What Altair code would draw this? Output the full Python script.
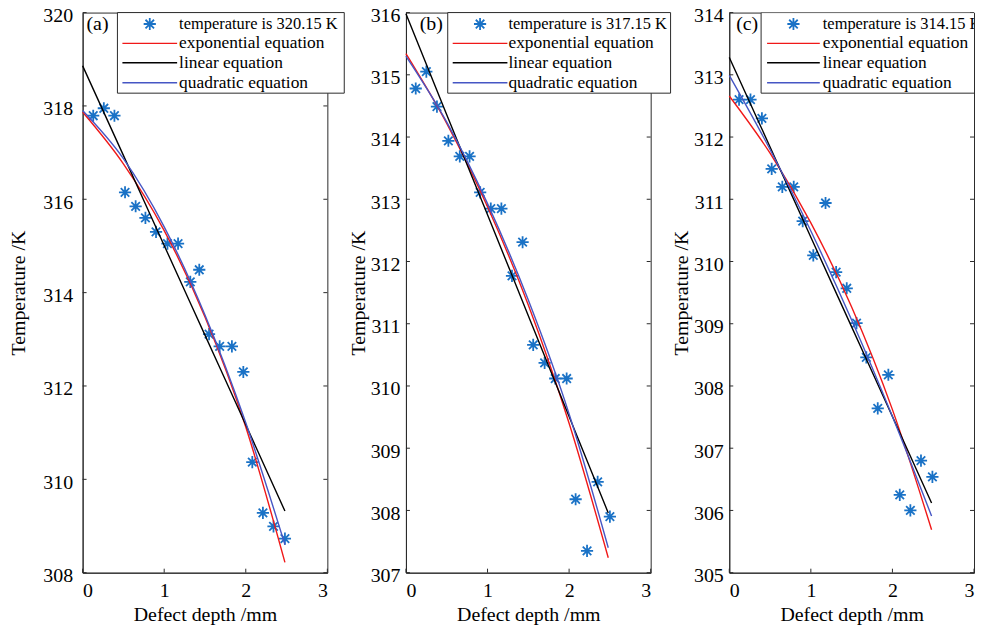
import altair as alt
import pandas as pd

# ---------------- data ----------------
# (a) temperature is 320.15 K
a_depth = [0.13, 0.26, 0.39, 0.52, 0.65, 0.77, 0.90, 1.04, 1.17, 1.32, 1.43,
           1.55, 1.68, 1.83, 1.97, 2.08, 2.21, 2.34, 2.48]
a_temp = [317.79, 317.95, 317.79, 316.15, 315.85, 315.60, 315.30, 315.05, 315.05,
          314.23, 314.49, 313.11, 312.85, 312.85, 312.30, 310.37, 309.28, 308.99, 308.73]
# (b) temperature is 317.15 K
b_depth = [0.12, 0.25, 0.38, 0.52, 0.66, 0.78, 0.91, 1.04, 1.17, 1.30, 1.43,
           1.56, 1.70, 1.83, 1.97, 2.08, 2.22, 2.35, 2.50]
b_temp = [314.78, 315.05, 314.49, 313.94, 313.69, 313.69, 313.11, 312.85, 312.85,
          311.77, 312.31, 310.66, 310.37, 310.12, 310.12, 308.18, 307.35, 308.46, 307.90]
# (c) temperature is 314.15 K
c_depth = [0.12, 0.26, 0.40, 0.52, 0.65, 0.79, 0.90, 1.03, 1.18, 1.31, 1.44,
           1.56, 1.68, 1.82, 1.95, 2.09, 2.22, 2.35, 2.49]
c_temp = [312.60, 312.60, 312.30, 311.49, 311.20, 311.20, 310.65, 310.10, 310.94,
          309.83, 309.57, 309.01, 308.46, 307.64, 308.18, 306.25, 306.00, 306.80, 306.54]

# fitted curves, read at these depths
fit_depth = [0.0, 0.5, 1.0, 1.5, 2.0, 2.48]
a_exp = [317.87, 316.76, 315.33, 313.48, 311.12, 308.22]
a_lin = [318.86, 316.94, 315.01, 313.09, 311.17, 309.32]
a_quad = [317.90, 316.87, 315.41, 313.52, 311.21, 308.60]
b_exp = [315.34, 314.22, 312.88, 311.30, 309.40, 307.24]
b_lin = [315.98, 314.36, 312.75, 311.13, 309.51, 307.96]
b_quad = [315.30, 314.24, 312.93, 311.38, 309.55, 307.40]
c_exp = [312.66, 311.74, 310.62, 309.27, 307.62, 305.69]
c_lin = [313.28, 311.84, 310.39, 308.95, 307.51, 306.12]
c_quad = [312.99, 311.80, 310.49, 309.06, 307.51, 305.91]

x_ticks = [0, 1, 2, 3]
a_yticks = [308, 310, 312, 314, 316, 318, 320]
b_yticks = [307, 308, 309, 310, 311, 312, 313, 314, 315, 316]
c_yticks = [305, 306, 307, 308, 309, 310, 311, 312, 313, 314]

panel_tags = ["(a)", "(b)", "(c)"]
data_labels = ["temperature is 320.15 K", "temperature is 317.15 K", "temperature is 314.15 K"]
fit_labels = ["exponential equation", "linear equation", "quadratic equation"]

# ---------------- styling ----------------
W, H = 246, 563
FONT = "Liberation Serif"
STAR = "M-1,0L1,0M0,-1L0,1M-0.7,-0.7L0.7,0.7M-0.7,0.7L0.7,-0.7"
STAR_BLUE = "#1a72c6"
FIT_COLORS = ["#f01818", "#000000", "#4656c4"]
AXIS_GRAY = "#2a2a2a"
ROW_Y = [11.5, 31, 50.5, 70.5]


def panel(idx, depth, temp, lin, expo, quad, ydom, yticks, lay):
    xs = alt.Scale(domain=[0, 3], nice=False, zero=False)
    ys = alt.Scale(domain=ydom, nice=False, zero=False)
    xax = alt.Axis(values=x_ticks, title="Defect depth /mm", labelPadding=8,
                   titlePadding=4, format="d")
    yax = alt.Axis(values=yticks, title="Temperature /K", labelPadding=lay["lp"],
                   titlePadding=lay["tp"], labelOffset=3, format="d")
    xe = alt.X("depth:Q", scale=xs, axis=xax)
    ye = alt.Y("temp:Q", scale=ys, axis=yax)
    one = pd.DataFrame({"k": [idx]})

    layers = []
    pts = pd.DataFrame({"depth": depth, "temp": temp})
    layers.append(alt.Chart(pts).mark_point(shape=STAR, filled=False, size=150,
                                             strokeWidth=1.8, color=STAR_BLUE,
                                             opacity=1).encode(x=xe, y=ye))
    for vals, col in zip([expo, lin, quad], FIT_COLORS):
        df = pd.DataFrame({"depth": fit_depth, "temp": vals})
        layers.append(alt.Chart(df).mark_line(color=col, strokeWidth=1.4,
                                              interpolate="monotone").encode(x=xe, y=ye))

    # inward ticks (MATLAB style)
    ydf = pd.DataFrame({"temp": yticks})
    xdf = pd.DataFrame({"depth": x_ticks})
    layers.append(alt.Chart(ydf).mark_rule(color=AXIS_GRAY, strokeWidth=1).encode(
        y=ye, x=alt.value(0), x2=alt.value(4)))
    layers.append(alt.Chart(ydf).mark_rule(color=AXIS_GRAY, strokeWidth=1).encode(
        y=ye, x=alt.value(W - 4), x2=alt.value(W)))
    layers.append(alt.Chart(xdf).mark_rule(color=AXIS_GRAY, strokeWidth=1).encode(
        x=xe, y=alt.value(H - 4), y2=alt.value(H)))

    clip = lay["clip"]
    star_x = (lay["l0"] + lay["l1"]) / 2
    # legend box
    layers.append(alt.Chart(one).mark_rect(fill="white", stroke=AXIS_GRAY, strokeWidth=1,
                                           clip=clip).encode(
        x=alt.value(lay["box0"]), x2=alt.value(lay["box1"]),
        y=alt.value(0), y2=alt.value(81)))
    layers.append(alt.Chart(one).mark_point(shape=STAR, filled=False, size=150,
                                            strokeWidth=1.8, color=STAR_BLUE, opacity=1,
                                            clip=clip).encode(
        x=alt.value(star_x), y=alt.value(ROW_Y[0])))
    layers.append(alt.Chart(one).mark_text(align="left", baseline="middle", font=FONT,
                                           fontSize=16.5, color="black", clip=clip).encode(
        x=alt.value(lay["text"]), y=alt.value(ROW_Y[0]), text=alt.value(data_labels[idx])))
    for r, (lab, col) in enumerate(zip(fit_labels, FIT_COLORS)):
        yy = ROW_Y[r + 1]
        layers.append(alt.Chart(one).mark_rule(color=col, strokeWidth=1.4, clip=clip).encode(
            x=alt.value(lay["l0"]), x2=alt.value(lay["l1"]), y=alt.value(yy)))
        layers.append(alt.Chart(one).mark_text(align="left", baseline="middle", font=FONT,
                                               fontSize=17.5, color="black", clip=clip).encode(
            x=alt.value(lay["text"]), y=alt.value(yy), text=alt.value(lab)))
    # panel tag
    layers.append(alt.Chart(one).mark_text(align="center", baseline="middle", font=FONT,
                                           fontSize=20, color="black").encode(
        x=alt.value(lay["tag"]), y=alt.value(ROW_Y[0]), text=alt.value(panel_tags[idx])))

    return alt.layer(*layers).properties(width=W, height=H)


lay_a = dict(lp=10, tp=14, box0=35, box1=263, l0=40, l1=95, text=97, tag=15, clip=False)
lay_b = dict(lp=6, tp=2, box0=42, box1=266, l0=47, l1=102, text=103, tag=25.5, clip=False)
lay_c = dict(lp=6, tp=2, box0=32, box1=262, l0=38, l1=91, text=94, tag=18, clip=True)

pa = panel(0, a_depth, a_temp, a_lin, a_exp, a_quad, [308, 320], a_yticks, lay_a)
pb = panel(1, b_depth, b_temp, b_lin, b_exp, b_quad, [307, 316], b_yticks, lay_b)
pc = panel(2, c_depth, c_temp, c_lin, c_exp, c_quad, [305, 314], c_yticks, lay_c)

chart = alt.hconcat(pa, pb, pc, spacing=79, bounds="flush",
                    padding={"left": 0, "top": -5, "right": 0, "bottom": 0},
                    background="white").configure_view(
    stroke=AXIS_GRAY, strokeWidth=1
).configure_axis(
    domainColor=AXIS_GRAY, domainWidth=1, ticks=False, tickSize=0, grid=False,
    labelFont=FONT, labelFontSize=20, labelColor="black",
    titleFont=FONT, titleFontSize=20, titleFontWeight="normal", titleColor="black"
)

chart.save("out.html", embed_options={"renderer": "svg", "actions": False})
